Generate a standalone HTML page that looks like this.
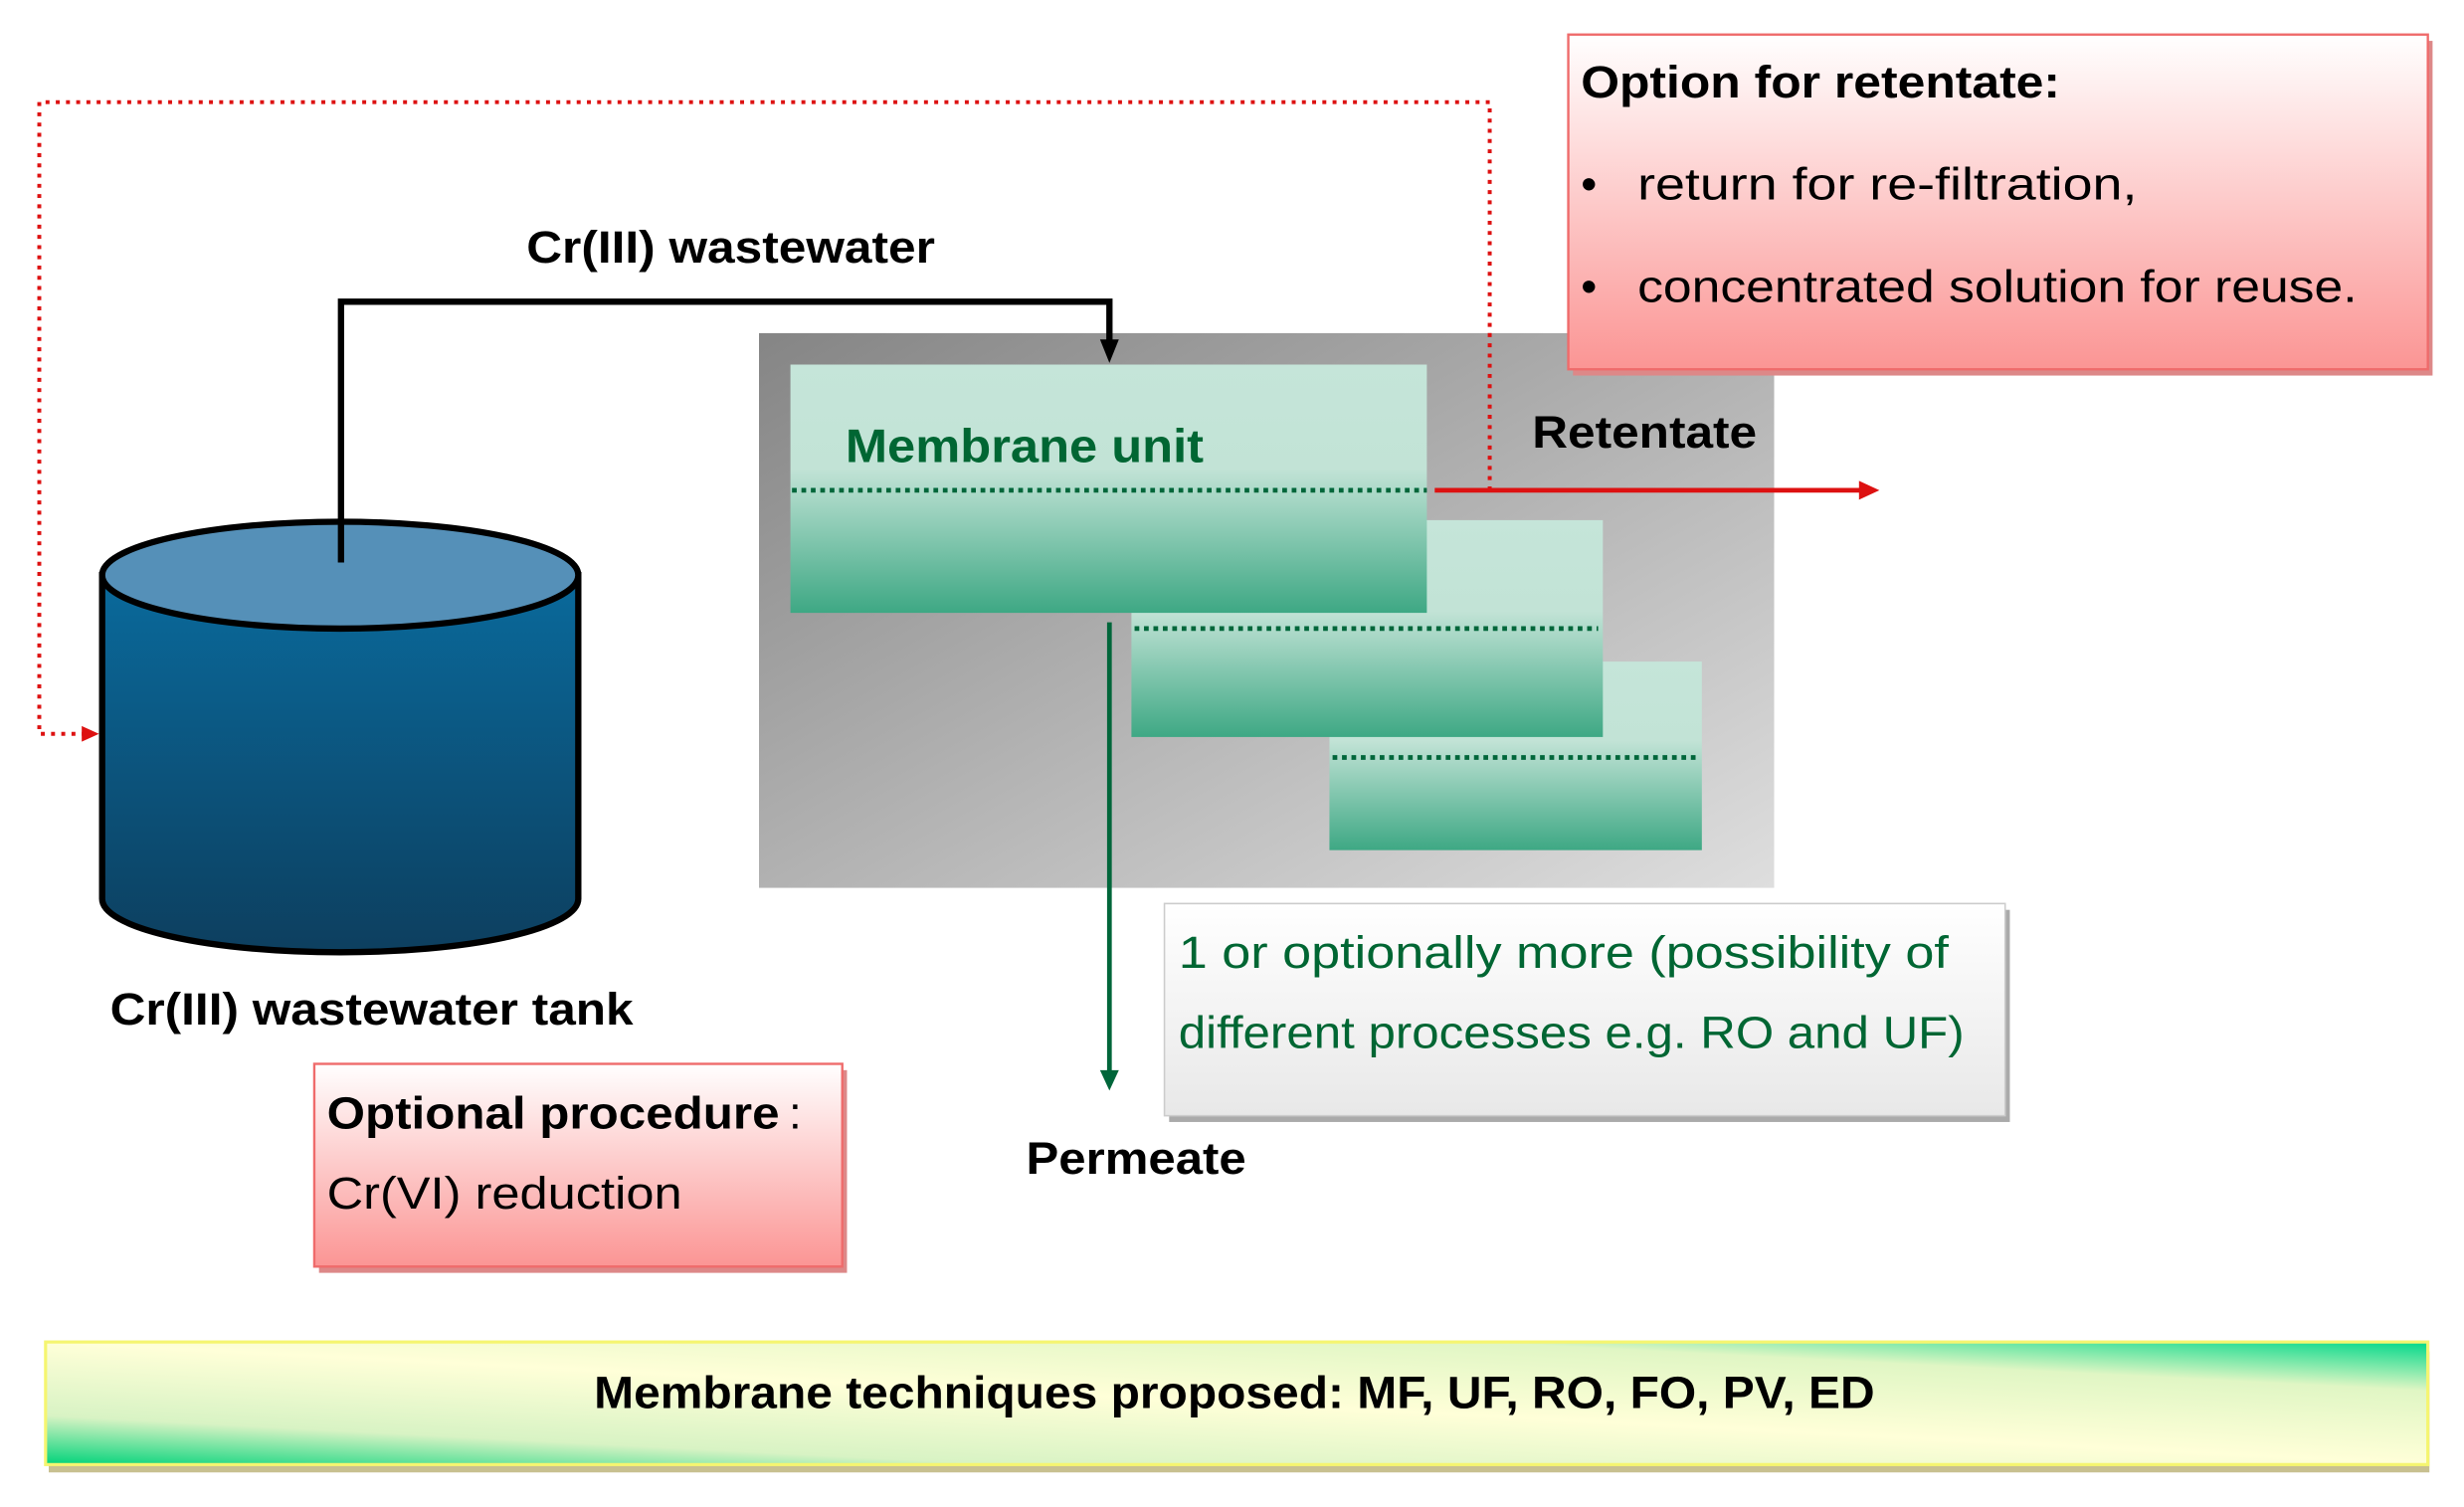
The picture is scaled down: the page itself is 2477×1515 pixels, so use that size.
<!DOCTYPE html>
<html><head><meta charset="utf-8"><style>
html,body{margin:0;padding:0;background:#fff;}
svg{display:block;}
text{font-family:"Liberation Sans",sans-serif;}
</style></head><body>
<svg width="2477" height="1515" viewBox="0 0 1568 959" preserveAspectRatio="none" xmlns="http://www.w3.org/2000/svg">
<defs>
<linearGradient id="gray" x1="0" y1="0" x2="1" y2="1"><stop offset="0" stop-color="#858585"/><stop offset="1" stop-color="#dedede"/></linearGradient>
<linearGradient id="mem" x1="0" y1="0" x2="0" y2="1"><stop offset="0" stop-color="#c5e5d9"/><stop offset="0.42" stop-color="#c2e3d6"/><stop offset="1" stop-color="#3ea884"/></linearGradient>
<linearGradient id="pink" x1="0" y1="0" x2="0" y2="1"><stop offset="0" stop-color="#ffffff"/><stop offset="1" stop-color="#fb9594"/></linearGradient>
<linearGradient id="lg" x1="0" y1="0" x2="0" y2="1"><stop offset="0" stop-color="#ffffff"/><stop offset="1" stop-color="#e8e8e8"/></linearGradient>
<linearGradient id="tank" x1="0" y1="0" x2="0" y2="1"><stop offset="0" stop-color="#0a6a9c"/><stop offset="1" stop-color="#0d3f5f"/></linearGradient>
<linearGradient id="bar" x1="0" y1="1" x2="1" y2="0"><stop offset="0" stop-color="#00d37a"/><stop offset="0.2" stop-color="#d8f3c4"/><stop offset="0.5" stop-color="#ffffd8"/><stop offset="0.8" stop-color="#e0f6c4"/><stop offset="1" stop-color="#00d88a"/></linearGradient>
</defs>

<!-- red dotted feedback -->
<polyline points="948,312 948,65 25,65 25,467 55,467" fill="none" stroke="#d11" stroke-width="2.5" stroke-dasharray="2.5,4"/>
<polygon points="63,467 52,462 52,472" fill="#d11"/>

<!-- gray box -->
<rect x="483" y="212" width="646" height="353" fill="url(#gray)"/>
<line x1="948" y1="212" x2="948" y2="312" stroke="#d11" stroke-width="2.5" stroke-dasharray="2.5,4"/>

<!-- option box -->
<rect x="1001" y="26" width="547" height="213" fill="#d88"/>
<rect x="998" y="22" width="547" height="213" fill="url(#pink)" stroke="#ef6b6b" stroke-width="1.5"/>
<text x="1006" y="62" font-size="29" font-weight="bold" fill="#000" textLength="305" lengthAdjust="spacingAndGlyphs">Option for retentate:</text>
<text x="1006" y="127" font-size="29" fill="#000">•</text>
<text x="1042" y="127" font-size="29" fill="#000" textLength="318" lengthAdjust="spacingAndGlyphs">return for re-filtration,</text>
<text x="1006" y="192" font-size="29" fill="#000">•</text>
<text x="1042" y="192" font-size="29" fill="#000" textLength="458" lengthAdjust="spacingAndGlyphs">concentrated solution for reuse.</text>

<!-- membrane boxes -->
<rect x="846" y="421" width="237" height="120" fill="url(#mem)"/>
<line x1="848" y1="482" x2="1081" y2="482" stroke="#00663a" stroke-width="3" stroke-dasharray="3,3"/>
<rect x="720" y="331" width="300" height="138" fill="url(#mem)"/>
<line x1="722" y1="400" x2="1017" y2="400" stroke="#00663a" stroke-width="3" stroke-dasharray="3,3"/>
<rect x="503" y="232" width="405" height="158" fill="url(#mem)"/>
<line x1="504" y1="312" x2="908" y2="312" stroke="#00663a" stroke-width="3" stroke-dasharray="3,3"/>
<text x="538" y="294" font-size="30" font-weight="bold" fill="#006633" textLength="228" lengthAdjust="spacingAndGlyphs">Membrane unit</text>
<text x="975" y="285" font-size="29" font-weight="bold" fill="#000" textLength="143" lengthAdjust="spacingAndGlyphs">Retentate</text>

<!-- red retentate arrow -->
<line x1="913" y1="312" x2="1185" y2="312" stroke="#d11" stroke-width="3"/>
<polygon points="1196,312 1183,306 1183,318" fill="#d11"/>

<!-- permeate line -->
<line x1="706" y1="396" x2="706" y2="684" stroke="#00663a" stroke-width="3"/>
<polygon points="706,694 700,681 712,681" fill="#00663a"/>

<!-- tank -->
<path d="M65,366 L65,572 A151.5,34 0 0 0 368,572 L368,366 Z" fill="url(#tank)" stroke="#000" stroke-width="4"/>
<ellipse cx="216.5" cy="366" rx="151.5" ry="34" fill="#5590b8" stroke="#000" stroke-width="4"/>

<!-- black feed line -->
<polyline points="217,358 217,192 706,192 706,220" fill="none" stroke="#000" stroke-width="4"/>
<polygon points="706,231 700,216 712,216" fill="#000"/>

<text x="70" y="652" font-size="29" font-weight="bold" fill="#000" textLength="333" lengthAdjust="spacingAndGlyphs">Cr(III) wastewater tank</text>
<text x="335" y="167" font-size="29" font-weight="bold" fill="#000" textLength="260" lengthAdjust="spacingAndGlyphs">Cr(III) wastewater</text>

<!-- optional procedure -->
<rect x="203" y="681" width="336" height="129" fill="#d88"/>
<rect x="200" y="677" width="336" height="129" fill="url(#pink)" stroke="#ef6b6b" stroke-width="1.5"/>
<text x="208" y="718" font-size="29" font-weight="bold" fill="#000" textLength="288" lengthAdjust="spacingAndGlyphs">Optional procedure</text>
<text x="502" y="718" font-size="29" fill="#000">:</text>
<text x="208" y="769" font-size="29" fill="#000" textLength="226" lengthAdjust="spacingAndGlyphs">Cr(VI) reduction</text>

<!-- green note box -->
<rect x="744" y="579" width="535" height="135" fill="#aaa"/>
<rect x="741" y="575" width="535" height="135" fill="url(#lg)" stroke="#ccc" stroke-width="1"/>
<text x="750" y="616" font-size="29" fill="#006633" textLength="490" lengthAdjust="spacingAndGlyphs">1 or optionally more (possibility of</text>
<text x="750" y="667" font-size="29" fill="#006633" textLength="500" lengthAdjust="spacingAndGlyphs">different processes e.g. RO and UF)</text>

<text x="653" y="747" font-size="29" font-weight="bold" fill="#000" textLength="140" lengthAdjust="spacingAndGlyphs">Permeate</text>

<!-- bottom bar -->
<rect x="31" y="860" width="1515" height="77" fill="#c8c090"/>
<rect x="29" y="854" width="1516" height="78" fill="url(#bar)" stroke="#f5f570" stroke-width="2"/>
<text x="378" y="896" font-size="29" font-weight="bold" fill="#000" textLength="815" lengthAdjust="spacingAndGlyphs">Membrane techniques proposed: MF, UF, RO, FO, PV, ED</text>
</svg>
</body></html>
